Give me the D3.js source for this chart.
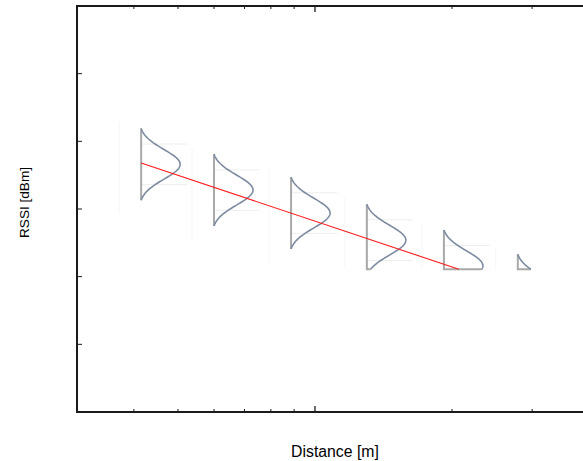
<!DOCTYPE html>
<html>
<head>
<meta charset="utf-8">
<script src="https://cdn.jsdelivr.net/npm/d3@7"></script>
<style>
  body { margin: 0; background: #fff; }
  text { font-family: "Liberation Sans", Arial, sans-serif; }
</style>
</head>
<body>
<div id="chart"></div>
<script>
const width = 583, height = 461;
const margin = { top: 6, left: 77, bottom: 49 };

// measured distances [m] and mean RSSI [dBm] of each distribution
const distances = [4.15, 6.0, 8.86, 13.0, 19.2, 27.9];
const meanRssi = [-63.4, -67.2, -70.6, -74.6, -78.4, -82.0];
const sigmaDb = 2.2;        // spread of each distribution
const halfRangeDb = 5.3;    // extent drawn either side of the mean
const floorRssi = -78.9;    // receiver sensitivity cut-off

// fitted path-loss line
const modelDist = [4.15, 20.7];
const modelRssi = [-63.2, -78.9];

const xMinor = [4, 5, 6, 7, 8, 9, 20, 30];
const xMajor = [10];
const yTicks = [-100, -90, -80, -70, -60, -50, -40];

const x = d3.scaleLog().domain([3, 40]).range([margin.left, margin.left + 512]);
const y = d3.scaleLinear().domain([-100, -40]).range([height - margin.bottom, margin.top]);

const svg = d3.select("#chart").append("svg")
    .attr("width", width)
    .attr("height", height);

const peakWidth = 39;
const e0 = Math.exp(-(halfRangeDb * halfRangeDb) / (2 * sigmaDb * sigmaDb));
function density(t) {
    return (Math.exp(-(t * t) / (2 * sigmaDb * sigmaDb)) - e0) / (1 - e0);
}

// faint guide lines round each distribution
const guides = svg.append("g");
distances.forEach(function (d, i) {
    [1, -1].forEach(function (s) {
        const v = meanRssi[i] + s * 3;
        if (v < floorRssi) return;
        guides.append("line")
            .attr("x1", x(d)).attr("x2", x(d) + 46)
            .attr("y1", y(v)).attr("y2", y(v))
            .attr("stroke", "#eeeeee")
            .attr("stroke-width", 1);
    });
    guides.append("line")
        .attr("x1", x(d) - 22).attr("x2", x(d) - 22)
        .attr("y1", y(meanRssi[i] + halfRangeDb + 1)).attr("y2", y(Math.max(floorRssi, meanRssi[i] - halfRangeDb - 2)))
        .attr("stroke", "#f6f6f6")
        .attr("stroke-width", 1);
});

// distributions
const dists = svg.append("g");
distances.forEach(function (d, i) {
    const mu = meanRssi[i];
    const top = mu + halfRangeDb;
    const bottom = Math.max(mu - halfRangeDb, floorRssi);
    const pts = d3.range(0, 101).map(function (k) {
        const v = top - (top - bottom) * k / 100;
        return [x(d) + peakWidth * density(v - mu), y(v)];
    });

    // baseline (and floor segment when truncated)
    const base = [[x(d), y(top)], [x(d), y(bottom)]];
    if (bottom > mu - halfRangeDb) base.push(pts[pts.length - 1]);
    dists.append("path")
        .attr("d", d3.line()(base))
        .attr("fill", "none")
        .attr("stroke", "#a9a9a9")
        .attr("stroke-width", 2);

    dists.append("path")
        .attr("d", d3.line()(pts))
        .attr("fill", "none")
        .attr("stroke", "#7d8ba1")
        .attr("stroke-width", 1.6);
});

// path-loss model line
svg.append("path")
    .attr("d", d3.line()(modelDist.map(function (d, i) { return [x(d), y(modelRssi[i])]; })))
    .attr("stroke", "#ff1a1a")
    .attr("stroke-width", 1.1)
    .attr("fill", "none");

// axes frame
const x0 = margin.left, yb = height - margin.bottom, yt = margin.top;
const frame = svg.append("g").attr("stroke", "#1a1a1a").attr("fill", "none");
frame.append("path")
    .attr("d", "M" + width + "," + yt + "H" + x0 + "V" + yb + "H" + width)
    .attr("stroke-width", 2);

// x ticks, bottom and top, pointing inward
const ticks = svg.append("g").attr("stroke", "#1a1a1a");
xMinor.forEach(function (v) {
    ticks.append("line").attr("x1", x(v)).attr("x2", x(v)).attr("y1", yb).attr("y2", yb - 3);
    ticks.append("line").attr("x1", x(v)).attr("x2", x(v)).attr("y1", yt).attr("y2", yt + 3);
});
xMajor.forEach(function (v) {
    ticks.append("line").attr("x1", x(v)).attr("x2", x(v)).attr("y1", yb).attr("y2", yb - 6).attr("stroke-width", 1.3);
    ticks.append("line").attr("x1", x(v)).attr("x2", x(v)).attr("y1", yt).attr("y2", yt + 6).attr("stroke-width", 1.3);
});
yTicks.slice(1, -1).forEach(function (v) {
    ticks.append("line").attr("x1", x0).attr("x2", x0 + 5).attr("y1", y(v)).attr("y2", y(v));
});

// axis titles
svg.append("text")
    .attr("x", 335).attr("y", 457)
    .attr("text-anchor", "middle")
    .attr("font-size", 15.8)
    .text("Distance [m]");

svg.append("text")
    .attr("transform", "translate(28.5,202.5) rotate(-90)")
    .attr("text-anchor", "middle")
    .attr("font-size", 13.6)
    .text("RSSI [dBm]");
</script>
</body>
</html>
